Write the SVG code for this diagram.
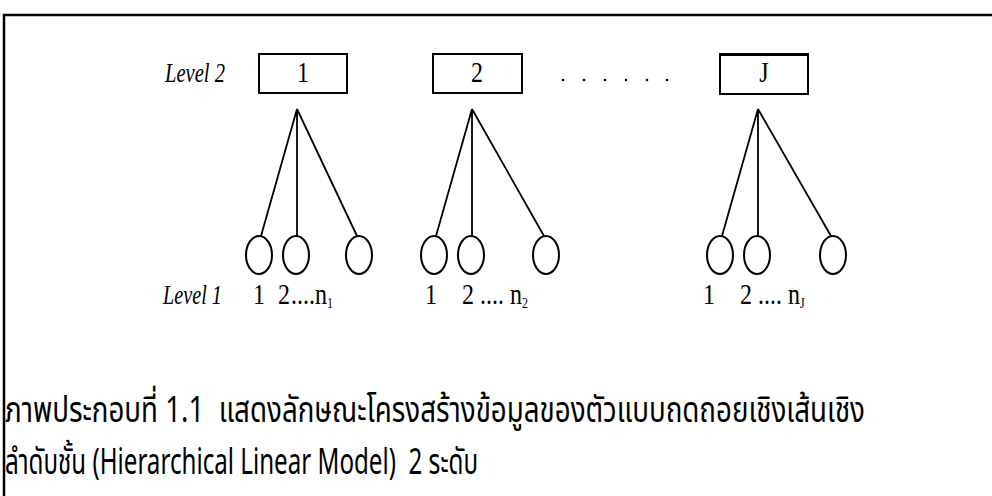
<svg xmlns="http://www.w3.org/2000/svg" width="992" height="496" viewBox="0 0 992 496">
<style>
.frame{fill:none;stroke:#000;stroke-width:2.5}
.box{fill:#fff;stroke:#000;stroke-width:2}
.node{fill:none;stroke:#000;stroke-width:2}
.edge{stroke:#000;stroke-width:1.8;fill:none}
.lvl{font-family:"Liberation Serif",serif;font-style:italic;font-size:24px;fill:#000}
.num{font-family:"Liberation Serif",serif;font-size:24px;fill:#000}
.sub{font-size:12px}
.dot{fill:#000}
.cap{font-family:"Noto Sans Thai","Liberation Sans",sans-serif;font-size:30px;fill:#000;white-space:pre}
</style>
<rect width="992" height="496" fill="#fff"/>
<path class="frame" d="M4,500 V15 H996"/>
<text class="lvl" transform="translate(165,82) scale(1,1.15)" textLength="60" lengthAdjust="spacingAndGlyphs">Level 2</text>
<g id="box1"><rect class="box" x="259" y="54" width="88" height="39"/><text class="num" transform="translate(303,82) scale(1,1.2)" text-anchor="middle">1</text></g>
<g id="box2"><rect class="box" x="433" y="54" width="89" height="39"/><text class="num" transform="translate(477,82) scale(1,1.2)" text-anchor="middle">2</text></g>
<g id="dots"><circle class="dot" cx="563" cy="80" r="1.3"/><circle class="dot" cx="584" cy="80" r="1.3"/><circle class="dot" cx="605" cy="80" r="1.3"/><circle class="dot" cx="626" cy="80" r="1.3"/><circle class="dot" cx="647" cy="80" r="1.3"/><circle class="dot" cx="667" cy="80" r="1.3"/></g>
<g id="boxJ"><rect class="box" x="720" y="54" width="88" height="40"/><line x1="720" y1="54.5" x2="808" y2="54.5" stroke="#000" stroke-width="3"/><text class="num" transform="translate(764,82) scale(1,1.2)" text-anchor="middle">J</text></g>
<g id="connectors">
<path class="edge" d="M297,109 L261,236 M297,109 V236 M297,109 L357,236"/>
<path class="edge" d="M472,109 L436,236 M472,109 V236 M472,109 L544,236"/>
<path class="edge" d="M758,109 L722,236 M758,109 V236 M758,109 L831,236"/>
</g>
<g id="units1"><ellipse class="node" cx="259" cy="255" rx="13" ry="19"/><ellipse class="node" cx="296" cy="255" rx="13" ry="19"/><ellipse class="node" cx="359" cy="255" rx="13" ry="19"/></g>
<g id="units2"><ellipse class="node" cx="434" cy="255" rx="13" ry="19"/><ellipse class="node" cx="471" cy="255" rx="13" ry="19"/><ellipse class="node" cx="546" cy="255" rx="13" ry="19"/></g>
<g id="unitsJ"><ellipse class="node" cx="720" cy="255" rx="13" ry="19"/><ellipse class="node" cx="757" cy="255" rx="13" ry="19"/><ellipse class="node" cx="833" cy="255" rx="13" ry="19"/></g>
<text class="lvl" transform="translate(163,304) scale(1,1.15)" textLength="59" lengthAdjust="spacingAndGlyphs">Level 1</text>
<g transform="translate(0,304) scale(1,1.2)">
<text class="num" x="253" y="0">1</text>
<text class="num" x="278" y="0">2<tspan dx="1">....</tspan><tspan>n</tspan><tspan class="sub" dy="3">1</tspan></text>
<text class="num" x="425" y="0">1</text>
<text class="num" x="462" y="0">2 .... n<tspan class="sub" dy="3">2</tspan></text>
<text class="num" x="703" y="0">1</text>
<text class="num" x="740" y="0">2 .... n<tspan class="sub" dy="3">J</tspan></text>
</g>
<text class="cap" transform="translate(5,422) scale(1,1.2)" textLength="860" lengthAdjust="spacingAndGlyphs">ภาพประกอบที่ 1.1  แสดงลักษณะโครงสร้างข้อมูลของตัวแบบถดถอยเชิงเส้นเชิง</text>
<text class="cap" transform="translate(5,474) scale(1,1.2)" textLength="473" lengthAdjust="spacingAndGlyphs">ลำดับชั้น (Hierarchical Linear Model)  2 ระดับ</text>
</svg>
